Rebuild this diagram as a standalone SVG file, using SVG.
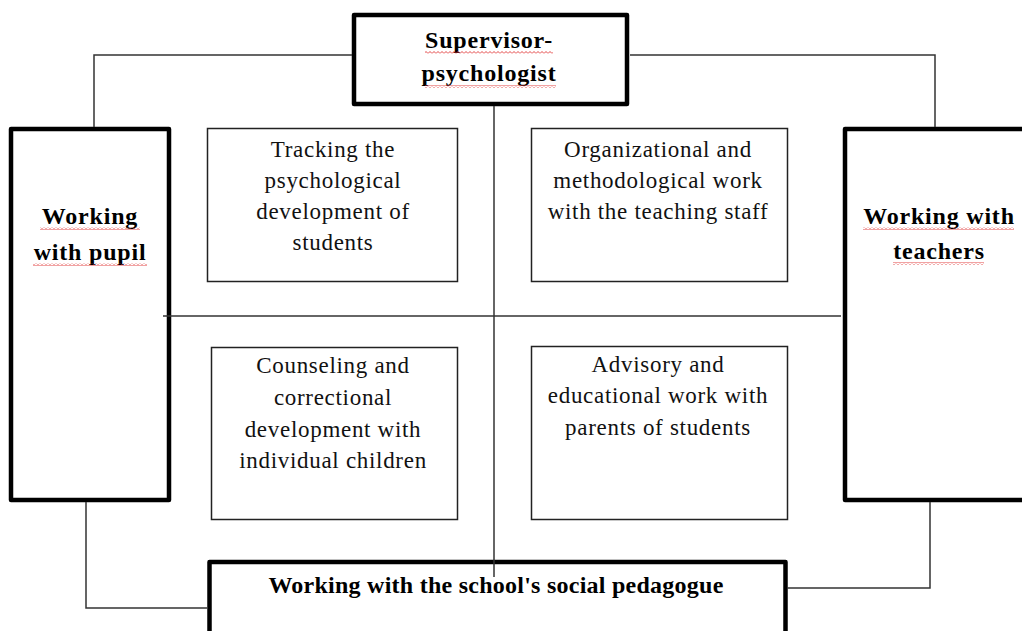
<svg xmlns="http://www.w3.org/2000/svg" width="1022" height="631" viewBox="0 0 1022 631">
  <style>
    .thick { fill: #ffffff; stroke: #000000; stroke-width: 4.5; stroke-linejoin: round; }
    .thin { fill: #ffffff; stroke: #222222; stroke-width: 1.5; }
    .conn { fill: none; stroke: #333333; stroke-width: 1.5; }
    .head { font-family: "Liberation Serif", "Times New Roman", serif; font-weight: bold; font-size: 24px; letter-spacing: 0.8px; fill: #000000; text-anchor: middle; }
    .body { font-family: "Liberation Serif", "Times New Roman", serif; font-size: 23px; letter-spacing: 0.7px; fill: #111111; text-anchor: middle; }
    .sq { fill: url(#squiggle); }
  </style>
  <defs>
    <pattern id="squiggle" width="4" height="3" patternUnits="userSpaceOnUse">
      <path d="M0 2.5 L2 0.5 L4 2.5" fill="none" stroke="#e03030" stroke-width="0.9"/>
    </pattern>
  </defs>
  <rect width="1022" height="631" fill="#ffffff"/>

  <g id="supervisor">
    <rect class="thick" x="354" y="15" width="273" height="89"/>
    <text class="head" x="489" y="48">Supervisor-</text>
    <text class="head" x="489" y="81">psychologist</text>
    <rect class="sq" x="425" y="51" width="128" height="3"/>
    <rect class="sq" x="425" y="85" width="131" height="3"/>
  </g>

  <g id="pupil">
    <rect class="thick" x="11" y="129" width="158" height="371"/>
    <text class="head" x="90" y="224">Working</text>
    <text class="head" x="90" y="260">with pupil</text>
    <rect class="sq" x="40" y="227" width="100" height="3"/>
    <rect class="sq" x="33" y="263" width="114" height="3"/>
  </g>

  <g id="teachers">
    <rect class="thick" x="845" y="129" width="200" height="371"/>
    <text class="head" x="939" y="224">Working with</text>
    <text class="head" x="939" y="259">teachers</text>
    <rect class="sq" x="863" y="227" width="151" height="3"/>
    <rect class="sq" x="893" y="262" width="91" height="3"/>
  </g>

  <g id="pedagogue">
    <rect class="thick" x="209.5" y="562" width="576" height="100"/>
    <text class="head" x="496" y="593" font-size="23" style="letter-spacing:0.25px">Working with the school's social pedagogue</text>
  </g>

  <g id="tracking">
    <rect class="thin" x="207.5" y="128.5" width="250" height="153"/>
    <text class="body" x="333" y="157">Tracking the</text>
    <text class="body" x="333" y="188">psychological</text>
    <text class="body" x="333" y="219">development of</text>
    <text class="body" x="333" y="250">students</text>
  </g>

  <g id="organizational">
    <rect class="thin" x="531.5" y="128.5" width="256" height="153"/>
    <text class="body" x="658" y="157">Organizational and</text>
    <text class="body" x="658" y="188">methodological work</text>
    <text class="body" x="658" y="219">with the teaching staff</text>
  </g>

  <g id="counseling">
    <rect class="thin" x="211.5" y="347.5" width="246" height="172"/>
    <text class="body" x="333" y="373">Counseling and</text>
    <text class="body" x="333" y="405">correctional</text>
    <text class="body" x="333" y="437">development with</text>
    <text class="body" x="333" y="468">individual children</text>
  </g>

  <g id="advisory">
    <rect class="thin" x="531.5" y="346.5" width="256" height="173"/>
    <text class="body" x="658" y="372">Advisory and</text>
    <text class="body" x="658" y="403">educational work with</text>
    <text class="body" x="658" y="435">parents of students</text>
  </g>

  <g id="connectors">
    <polyline class="conn" points="352,55 94,55 94,127"/>
    <polyline class="conn" points="630,55 935,55 935,127"/>
    <line class="conn" x1="494" y1="106" x2="494" y2="577"/>
    <line class="conn" x1="163" y1="316" x2="841" y2="316"/>
    <polyline class="conn" points="86,502 86,608 207,608"/>
    <polyline class="conn" points="930,502 930,588 787,588"/>
  </g>
</svg>
